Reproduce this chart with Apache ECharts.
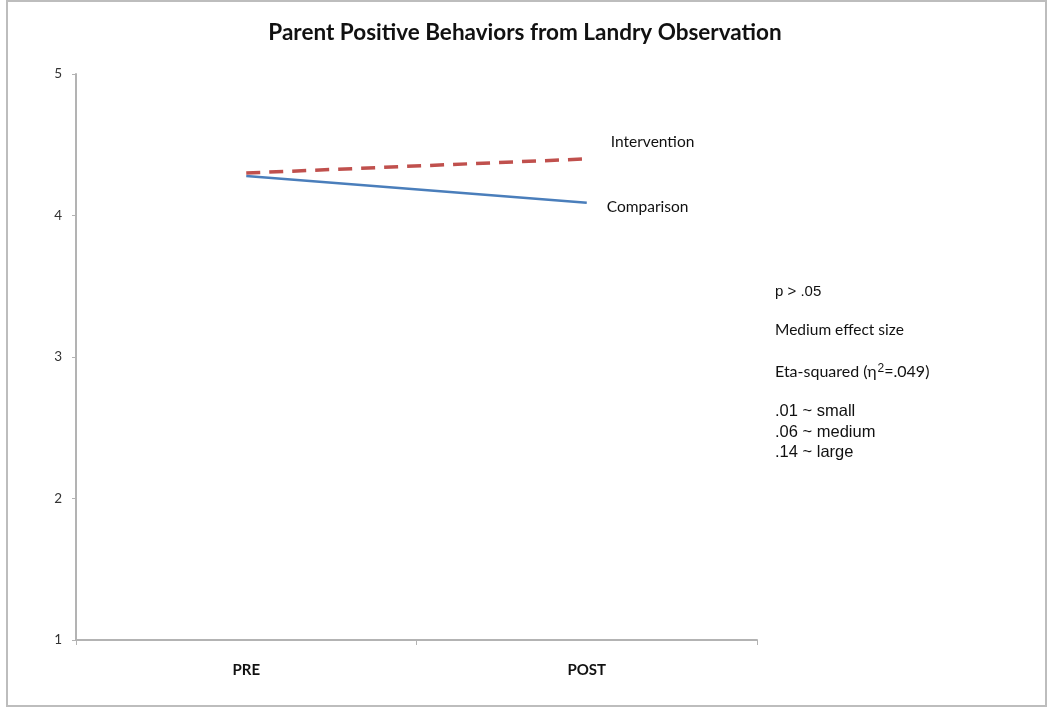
<!DOCTYPE html>
<html>
<head>
<meta charset="utf-8">
<script src="https://cdn.jsdelivr.net/npm/echarts@6/dist/echarts.min.js"></script>
<style>
html,body{margin:0;padding:0;background:#fff;}
#chart{width:1050px;height:710px;}
</style>
</head>
<body>
<div id="chart"></div>
<script>
const categories = ['PRE', 'POST'];
const intervention = [4.30, 4.40];
const comparison = [4.28, 4.09];
const yTicks = [1, 2, 3, 4, 5];
const notes = ['p > .05', 'Medium effect size', 'Eta-squared (\u03B7{sup|2}=.049)', '.01 ~ small', '.06 ~ medium', '.14 ~ large'];

const chart = echarts.init(document.getElementById('chart'));
chart.setOption({
  backgroundColor: '#fff',
  animation: false,
  title: {
    text: 'Parent Positive Behaviors from Landry Observation',
    left: 'center',
    top: 16,
    textStyle: { fontFamily: 'Lato', fontWeight: 'bold', fontSize: 22.5, color: '#111' }
  },
  grid: { left: 76, right: 293, top: 74, bottom: 70, containLabel: false },
  xAxis: {
    type: 'category',
    data: categories,
    boundaryGap: true,
    axisLine: { lineStyle: { color: '#b3b3b3', width: 2 } },
    axisTick: { show: true, length: 5, lineStyle: { color: '#b3b3b3', width: 1 } },
    axisLabel: { margin: 23, fontFamily: 'Lato', fontWeight: 'bold', fontSize: 15, color: '#111' },
    splitLine: { show: false }
  },
  yAxis: {
    type: 'value',
    min: yTicks[0],
    max: yTicks[yTicks.length - 1],
    interval: 1,
    axisLine: { show: true, lineStyle: { color: '#b3b3b3', width: 2 } },
    axisTick: { show: true, length: 4, lineStyle: { color: '#b3b3b3', width: 1 } },
    axisLabel: { margin: 14, fontFamily: 'Lato', fontSize: 13.5, color: '#333' },
    splitLine: { show: false }
  },
  series: [
    {
      name: 'Intervention',
      type: 'line',
      data: intervention,
      symbol: 'none',
      lineStyle: { color: '#c0504d', width: 3.5, type: [14, 9] },
      endLabel: { show: true, formatter: '{a}', offset: [16, -17], fontFamily: 'Lato', fontSize: 15.5, color: '#111' },
      z: 3
    },
    {
      name: 'Comparison',
      type: 'line',
      data: comparison,
      symbol: 'none',
      lineStyle: { color: '#4a7ebb', width: 2.5 },
      endLabel: { show: true, formatter: '{a}', offset: [12, 4], fontFamily: 'Lato', fontSize: 15.5, color: '#111' },
      z: 2
    }
  ],
  graphic: [
    { type: 'rect', shape: { x: 7, y: 1, width: 1039, height: 705 }, style: { fill: 'none', stroke: '#bdbdbd', lineWidth: 2 }, silent: true },
    { type: 'text', x: 775, y: 292, style: { text: notes[0], font: '15px "Liberation Sans", Arial', fill: '#111', verticalAlign: 'middle' } },
    { type: 'text', x: 775, y: 330, style: { text: notes[1], font: '15.5px Lato', fill: '#111', verticalAlign: 'middle' } },
    { type: 'text', x: 775, y: 372, style: {
        text: notes[2], fontFamily: 'Lato', fontSize: 16, fill: '#111', verticalAlign: 'middle',
        rich: { sup: { fontFamily: '"Liberation Sans", Arial', fontSize: 12, verticalAlign: 'top', padding: [0, 0, 6, 1], fill: '#111' } }
      } },
    { type: 'text', x: 775, y: 411, style: { text: notes[3], font: '16.5px "Liberation Sans", Arial', fill: '#111', verticalAlign: 'middle' } },
    { type: 'text', x: 775, y: 432, style: { text: notes[4], font: '16.5px "Liberation Sans", Arial', fill: '#111', verticalAlign: 'middle' } },
    { type: 'text', x: 775, y: 452, style: { text: notes[5], font: '16.5px "Liberation Sans", Arial', fill: '#111', verticalAlign: 'middle' } }
  ]
});
</script>
</body>
</html>
